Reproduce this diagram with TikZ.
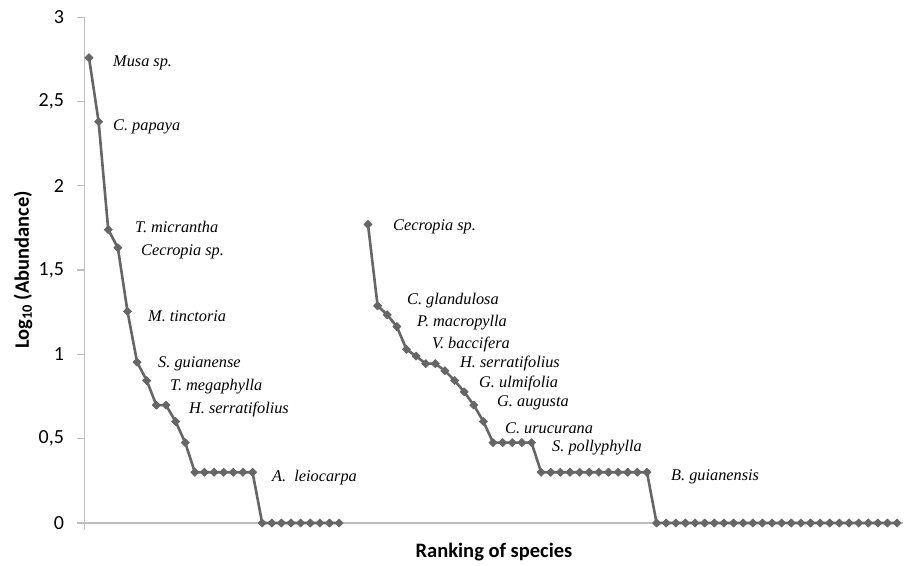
\documentclass[tikz,border=0pt]{standalone}
\usepackage{fontspec}
\setmainfont{Liberation Serif}
\newfontfamily\axfont{Carlito}
\usetikzlibrary{plotmarks}
\definecolor{serie}{HTML}{666666}
\definecolor{axisgray}{HTML}{BEBEBE}
\tikzset{
  sp/.style={anchor=west, inner sep=0pt, font=\fontsize{16.3}{17}\selectfont\itshape},
  ticklab/.style={anchor=east, inner sep=0pt, font=\axfont\fontsize{20}{20}\selectfont},
  axtitle/.style={inner sep=0pt, font=\axfont\bfseries\fontsize{20.5}{21}\selectfont},
  axisline/.style={draw=axisgray, line width=1.3pt},
  series/.style={draw=serie, line width=2.6pt, line join=round, mark=square*, mark size=2.9pt,
    mark options={fill=serie, draw=serie, line width=0.6pt, rotate=45}}
}
\begin{document}
\begin{tikzpicture}[x=1pt,y=1pt]
\useasboundingbox (0,0) rectangle (905,565);
\fill[white] (0,0) rectangle (905,565);
\begin{scope}[shift={(89pt,42pt)}, x=9.62pt, y=168.6pt]
  % axes
  \coordinate (yb) at (-0.5,0);
  \coordinate (yt) at (-0.5,3);
  \coordinate (xe) at (84.6,0);
  \draw[axisline] ([yshift=-6pt]yb) -- (yt);
  \draw[axisline] (yb) -- (xe);
  \foreach \v/\t in {0/0,0.5/{0,5},1/1,1.5/{1,5},2/2,2.5/{2,5},3/3}{
    \draw[axisline] (-0.5,\v) -- ++(-7pt,0);
    \node[ticklab] (t\v) at ([xshift=-20pt]-0.5,\v) {\t};
  }
  % left series
  \draw[series] plot coordinates {
    (0,2.76) (1,2.38) (2,1.74) (3,1.633) (4,1.255) (5,0.954) (6,0.845)
    (7,0.699) (8,0.699) (9,0.602) (10,0.477)
    (11,0.301) (12,0.301) (13,0.301) (14,0.301) (15,0.301) (16,0.301) (17,0.301)
    (18,0) (19,0) (20,0) (21,0) (22,0) (23,0) (24,0) (25,0) (26,0)};
  % right series
  \draw[series] plot coordinates {
    (29,1.771) (30,1.288) (31,1.235) (32,1.165) (33,1.03) (34,0.99) (35,0.945) (36,0.945)
    (37,0.903) (38,0.845) (39,0.778) (40,0.699) (41,0.602) (42,0.477)
    (43,0.477) (44,0.477) (45,0.477) (46,0.477)
    (47,0.301) (48,0.301) (49,0.301) (50,0.301) (51,0.301) (52,0.301)
    (53,0.301) (54,0.301) (55,0.301) (56,0.301) (57,0.301) (58,0.301)
    (59,0) (60,0) (61,0) (62,0) (63,0) (64,0) (65,0) (66,0) (67,0) (68,0)
    (69,0) (70,0) (71,0) (72,0) (73,0) (74,0) (75,0) (76,0) (77,0) (78,0)
    (79,0) (80,0) (81,0) (82,0) (83,0) (84,0)};
\end{scope}
% axis titles
\node[axtitle, rotate=90] (ytitle) at (23,295) {Log\textsubscript{10} (Abundance)};
\node[axtitle] (xtitle) at (494,13) {Ranking of species};
% species labels (left)
\node[sp] (l1) at (113,502) {Musa sp.};
\node[sp] (l2) at (113,438) {C. papaya};
\node[sp] (l3) at (135,338) {T. micrantha};
\node[sp] (l4) at (141,313) {Cecropia sp.};
\node[sp] (l5) at (148,249) {M. tinctoria};
\node[sp] (l6) at (158,201) {S. guianense};
\node[sp] (l7) at (170,178) {T. megaphylla};
\node[sp] (l8) at (189,156) {H. serratifolius};
\node[sp] (l9) at (272,87) {A.\ \ leiocarpa};
% species labels (right)
\node[sp] (r1) at (393,338) {Cecropia sp.};
\node[sp] (r2) at (407,264) {C. glandulosa};
\node[sp] (r3) at (417,242) {P. macropylla};
\node[sp] (r4) at (432,221) {V. baccifera};
\node[sp] (r5) at (460,202) {H. serratifolius};
\node[sp] (r6) at (479,182) {G. ulmifolia};
\node[sp] (r7) at (497,162) {G. augusta};
\node[sp] (r8) at (505,137) {C. urucurana};
\node[sp] (r9) at (552,117) {S. pollyphylla};
\node[sp] (r10) at (671,88) {B. guianensis};
\end{tikzpicture}
\end{document}
